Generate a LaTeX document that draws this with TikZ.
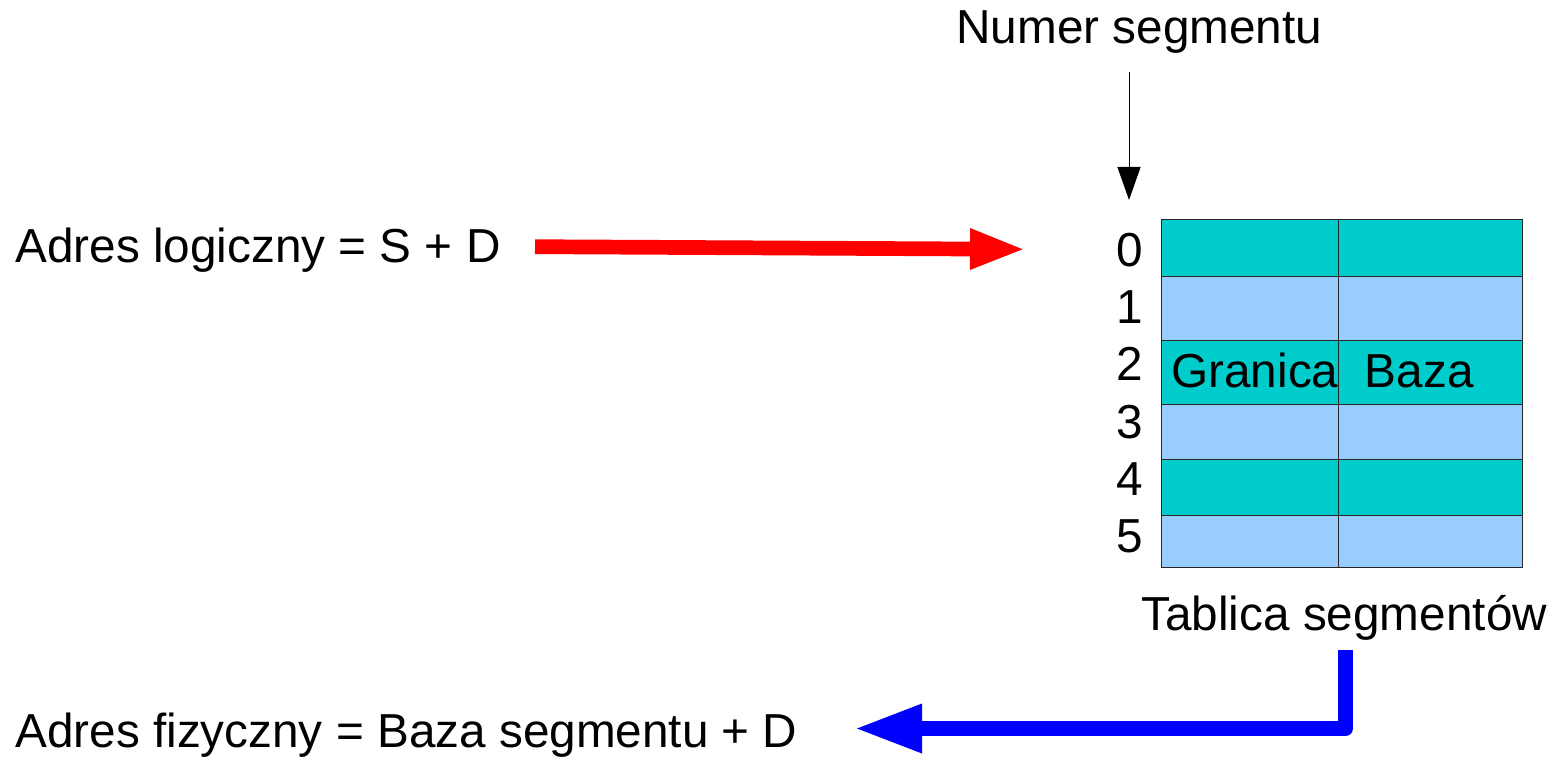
\documentclass[tikz,border=0pt]{standalone}
\usepackage{fontspec}
\setmainfont{Liberation Sans}
\usetikzlibrary{arrows.meta}
\definecolor{segteal}{RGB}{0,204,204}
\definecolor{segblue}{RGB}{153,204,255}
\definecolor{logred}{RGB}{255,0,0}
\definecolor{physblue}{RGB}{0,0,255}

\begin{document}
\begin{tikzpicture}[
  x=0.5pt, y=-0.5pt,
  txt/.style={font=\fontsize{23.85}{28}\selectfont, inner sep=0pt, anchor=base west},
  cell/.style={draw=black!85, line width=0.5pt, anchor=north west, inner sep=0pt},
  redarrow/.style={draw=logred, line width=7.35pt,
                   -{Triangle[length=28pt, width=18.5pt]}},
  bluearrow/.style={draw=physblue, line width=7.5pt, line join=round,
                    -{Triangle[length=34pt, width=22.5pt]}},
  thinarrow/.style={draw=black, line width=0.5pt,
                    -{Triangle[length=16.5pt, width=11.5pt]}}
]
\useasboundingbox (0,0) rectangle (1566,758);

% segment table rows
\foreach \ya/\yb/\col [count=\i from 0] in
    {219/276/segteal, 276/340/segblue, 340/404/segteal,
     404/459/segblue, 459/515/segteal, 515/567/segblue} {
  \node[cell, fill=\col, minimum width=88.5pt, minimum height={(\yb-\ya)*0.5pt}]
    (lim\i) at (1161,\ya) {};
  \node[cell, fill=\col, minimum width=92pt, minimum height={(\yb-\ya)*0.5pt}]
    (base\i) at (1338,\ya) {};
  \node[txt, anchor=base] (idx\i) at (1130,{267+57*\i}) {\i};
}

\node[txt] (granica) at (1171,387) {Granica};
\node[txt] (baza)    at (1364.5,387) {Baza};

\node[txt] (segnum)   at (956,44)  {Numer segmentu};
\node[txt] (segtab)   at (1141,630) {Tablica segmentów};
\node[txt] (logaddr)  at (15,263)  {Adres logiczny = S + D};
\node[txt] (physaddr) at (15,747)  {Adres fizyczny = Baza segmentu + D};

\coordinate (numtop) at (1129,72);
\coordinate (numtip) at (1129,200);
\coordinate (logtail) at (535,246.7);
\coordinate (logtip)  at (1026,249.3);
\coordinate (phystail) at (1345.5,650);
\coordinate (phystip)  at (854,728.5);

\draw[thinarrow] (numtop) -- (numtip);
\draw[redarrow] (logtail) -- (logtip);
\draw[bluearrow] (phystail) |- (phystip);

\end{tikzpicture}
\end{document}
